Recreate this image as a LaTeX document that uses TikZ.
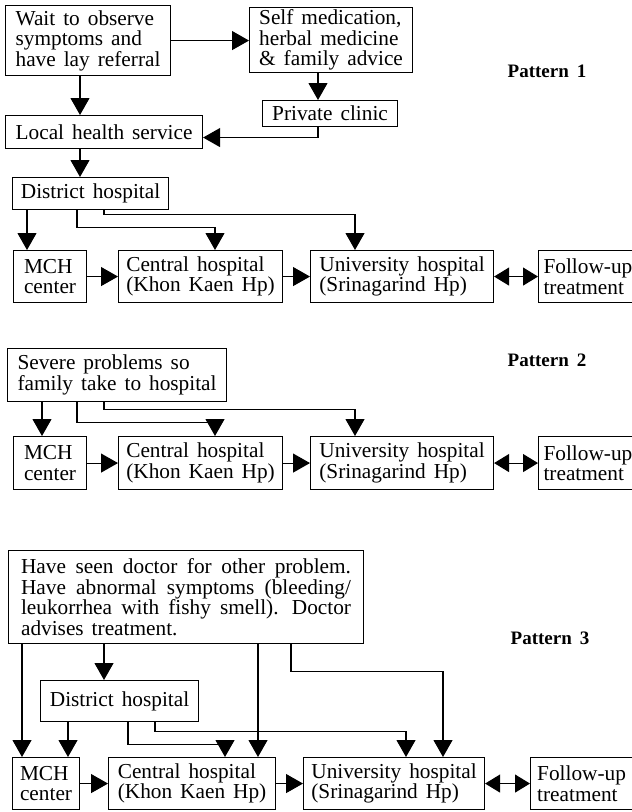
\documentclass[tikz,border=0pt]{standalone}
\usepackage{fontspec}
\setmainfont{Liberation Serif}[WordSpace=1.5]
\usetikzlibrary{arrows.meta}
\tolerance=10000

\begin{document}
\begin{tikzpicture}[x = 1pt, y = -1pt,
    box/.style = {draw, line width = 1.1pt, anchor = north west, align = left,
      inner xsep = 5pt, inner ysep = 0pt, font = \fontsize{21.3}{20.5}\selectfont},
    conn/.style = {line width = 1.1pt, -{Triangle[length = 17pt, width = 19pt]}},
    both/.style = {line width = 1.1pt,
      {Triangle[length = 15pt, width = 18pt]}-{Triangle[length = 15pt, width = 18pt]}},
    pattern/.style = {font = \fontsize{19}{20}\selectfont\bfseries}]
        \useasboundingbox (0,0) rectangle (632,812);

        % draws pattern 1
        \node[box, minimum width = 165, minimum height = 70] (wait) at (5,5)
          {Wait to observe\\symptoms and\\have lay referral};
        \node[box, minimum width = 163, minimum height = 65] (selfmed) at (249,7)
          {Self medication,\\herbal medicine\\\& family advice};
        \node[box, minimum width = 135, minimum height = 26] (private) at (262,100) {Private clinic};
        \node[box, minimum width = 197, minimum height = 33] (local) at (5,115) {Local health service};
        \node[box, minimum width = 156, minimum height = 32] (district1) at (12,177) {District hospital};
        \node[box, minimum width = 73, minimum height = 52] (mch1) at (13,250) {MCH\\center};
        \node[box, minimum width = 164, minimum height = 52] (central1) at (118,250)
          {Central hospital\\(Khon Kaen Hp)};
        \node[box, minimum width = 183, minimum height = 52] (univ1) at (310,250)
          {University hospital\\(Srinagarind Hp)};
        \node[box, minimum height = 52] (follow1) at (538,250) {Follow-up\\treatment};
        \node[pattern] (pat1) at (547,71) {Pattern\hspace{8pt}1};

        \draw[conn] (wait.east) -- (wait.east -| selfmed.west);
        \draw[conn] ([xshift = 75pt]wait.south west) -- ([xshift = 75pt]wait.south west |- local.north);
        \draw[conn] ([xshift = 56pt]private.north west |- selfmed.south) -- ([xshift = 56pt]private.north west);
        \draw[conn] ([xshift = 56pt]private.south west) |- ([yshift = -5.5pt]local.east);
        \draw[conn] ([xshift = 75pt]local.south west) -- ([xshift = 75pt]local.south west |- district1.north);
        \draw[conn] ([xshift = 15pt]district1.south west) -- ([xshift = 15pt]district1.south west |- mch1.north);
        \draw[conn] ([xshift = 65pt]district1.south west) -- ++(0,17) -| ([xshift = 97pt]central1.north west);
        \draw[conn] ([xshift = 92pt]district1.south west) -- ++(0,4) -| ([xshift = 45pt]univ1.north west);
        \draw[conn] (mch1) -- (central1);
        \draw[conn] (central1) -- (univ1);
        \draw[both] (univ1) -- (follow1);

        % draws pattern 2
        \node[box, minimum width = 219, minimum height = 53] (severe) at (7,348)
          {Severe problems so\\family take to hospital};
        \node[box, minimum width = 73, minimum height = 53] (mch2) at (13,436) {MCH\\center};
        \node[box, minimum width = 164, minimum height = 53] (central2) at (118,436)
          {Central hospital\\(Khon Kaen Hp)};
        \node[box, minimum width = 183, minimum height = 53] (univ2) at (310,436)
          {University hospital\\(Srinagarind Hp)};
        \node[box, minimum height = 53] (follow2) at (538,436) {Follow-up\\treatment};
        \node[pattern] (pat2) at (547,360) {Pattern\hspace{8pt}2};

        \draw[conn] ([xshift = 35pt]severe.south west) -- ([xshift = 35pt]severe.south west |- mch2.north);
        \draw[conn] ([xshift = 70pt]severe.south west) -- ++(0,20) -| ([xshift = 97pt]central2.north west);
        \draw[conn] ([xshift = 97pt]severe.south west) -- ++(0,7) -| ([xshift = 45pt]univ2.north west);
        \draw[conn] (mch2) -- (central2);
        \draw[conn] (central2) -- (univ2);
        \draw[both] (univ2) -- (follow2);

        % draws pattern 3
        \node[box, minimum width = 355, minimum height = 93, text width = 330, align = justify]
          (doctor) at (8,550)
          {Have seen doctor for other problem.\linebreak
           Have abnormal symptoms (bleeding/\linebreak
           leukorrhea with fishy smell). Doctor\linebreak
           advises treatment.};
        \node[box, minimum width = 158, minimum height = 41] (district3) at (40,680) {District hospital};
        \node[box, minimum width = 67, minimum height = 52] (mch3) at (12,757) {MCH\\center};
        \node[box, minimum width = 167, minimum height = 52] (central3) at (108,757)
          {Central hospital\\(Khon Kaen Hp)};
        \node[box, minimum width = 181, minimum height = 52] (univ3) at (303,757)
          {University hospital\\(Srinagarind Hp)};
        \node[box, minimum width = 102, minimum height = 52] (follow3) at (530,757) {Follow-up\\treatment};
        \node[pattern] (pat3) at (550,638) {Pattern\hspace{8pt}3};

        \draw[conn] ([xshift = 14pt]doctor.south west) -- ([xshift = 14pt]doctor.south west |- mch3.north);
        \draw[conn] ([xshift = 96pt]doctor.south west) -- ([xshift = 96pt]doctor.south west |- district3.north);
        \draw[conn] ([xshift = 250pt]doctor.south west) -- ([xshift = 250pt]doctor.south west |- central3.north);
        \draw[conn] ([xshift = 283pt]doctor.south west) -- ++(0,27) -| ([xshift = 140pt]univ3.north west);
        \draw[conn] ([xshift = 28pt]district3.south west) -- ([xshift = 28pt]district3.south west |- mch3.north);
        \draw[conn] ([xshift = 88pt]district3.south west) -- ++(0,22) -| ([xshift = 117pt]central3.north west);
        \draw[conn] ([xshift = 115pt]district3.south west) -- ++(0,9) -| ([xshift = 103pt]univ3.north west);
        \draw[conn] (mch3) -- (central3);
        \draw[conn] (central3) -- (univ3);
        \draw[both] (univ3) -- (follow3);
      \end{tikzpicture}
\end{document}
